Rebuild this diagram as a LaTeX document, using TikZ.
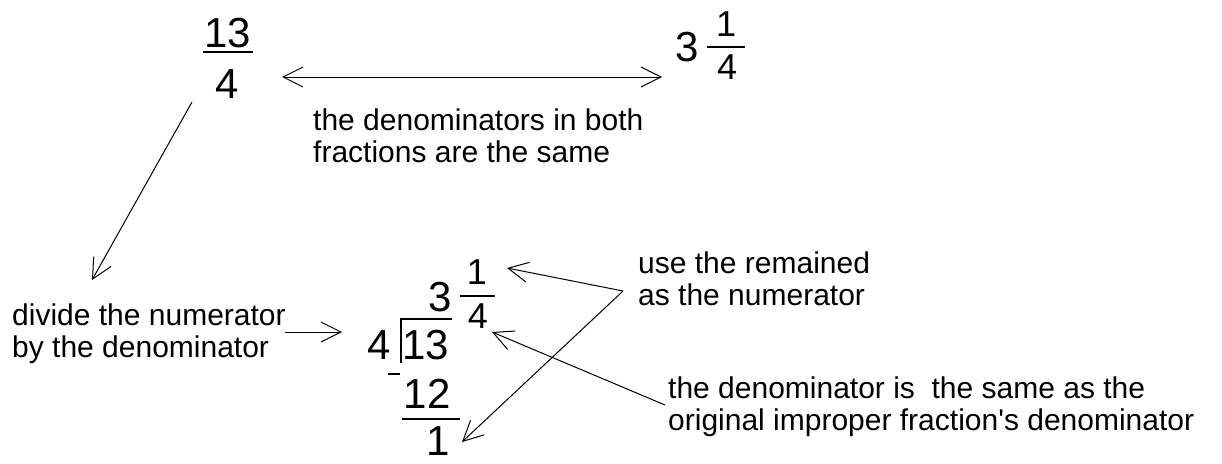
\documentclass[tikz,border=0pt]{standalone}
\usepackage{fontspec}
\setmainfont{Liberation Sans}
\usetikzlibrary{arrows.meta}

\begin{document}
\begin{tikzpicture}[x=1pt,y=-1pt,
    note/.style={anchor=base west,inner sep=0pt,align=left,
                 font=\fontsize{30}{32}\selectfont},
    big/.style={inner sep=0pt,font=\fontsize{42}{42}\selectfont},
    small/.style={inner sep=0pt,font=\fontsize{36}{36}\selectfont},
    bar/.style={line width=2pt},
    arrow/.style={-{Straight Barb[length=20pt,width=20pt]},line width=1pt},
    darrow/.style={{Straight Barb[length=20pt,width=20pt]}-{Straight Barb[length=20pt,width=20pt]},
                   line width=1pt}]

  \useasboundingbox (0,0) rectangle (1222,463);

  % improper fraction and mixed number
  \node[big] (num) at (228,33) {13};
  \node[big] (den) at (227,84) {4};
  \draw[bar] (203,52) -- (253,52);

  \node[big] (whole) at (687,47.5) {3};
  \node[small] (mnum) at (726,24) {1};
  \node[small] (mden) at (727,67.5) {4};
  \draw[bar] (707,47) -- (745,47);

  % long division
  \node[big] (dvs) at (379,345) {4};
  \node[big] (dvd) at (426,345.5) {13};
  \node[big] (quo) at (440,297.5) {3};
  \node[small] (qnum) at (477,272.5) {1};
  \node[small] (qden) at (478,316.5) {4};
  \node[big] (sub) at (427,393.5) {12};
  \node[big] (rem) at (438,441) {1};
  \draw[bar] (401,363) -- (401,319) -- (452,319);
  \draw[bar] (460,296) -- (495,296);
  \draw[bar] (388,374) -- (400,374);
  \draw[bar] (402,419) -- (460,419);

  % notes (base = last line)
  \node[note] (same) at (313,162) {the denominators in both\\fractions are the same};
  \node[note] (divide) at (12,357) {divide the numerator\\by the denominator};
  \node[note] (use) at (638,305) {use the remained\\as the numerator};
  \node[note] (orig) at (668,430)
    {the denominator is\ \ the same as the\\original improper fraction\textquotesingle s denominator};

  % arrows
  \coordinate (dl) at (282,77);
  \coordinate (dr) at (662,77);
  \coordinate (a1s) at (192,102);
  \coordinate (a1e) at (92,280);
  \coordinate (a2s) at (285,332);
  \coordinate (a2e) at (342,332);
  \coordinate (fork) at (623,291);
  \coordinate (t1) at (507,268);
  \coordinate (t2) at (462,442);
  \coordinate (a4s) at (665,405);
  \coordinate (t3) at (492,332);

  \draw[darrow] (dl) -- (dr);
  \foreach \from/\to in {a1s/a1e, a2s/a2e, fork/t1, fork/t2, a4s/t3}
    \draw[arrow] (\from) -- (\to);
\end{tikzpicture}
\end{document}
